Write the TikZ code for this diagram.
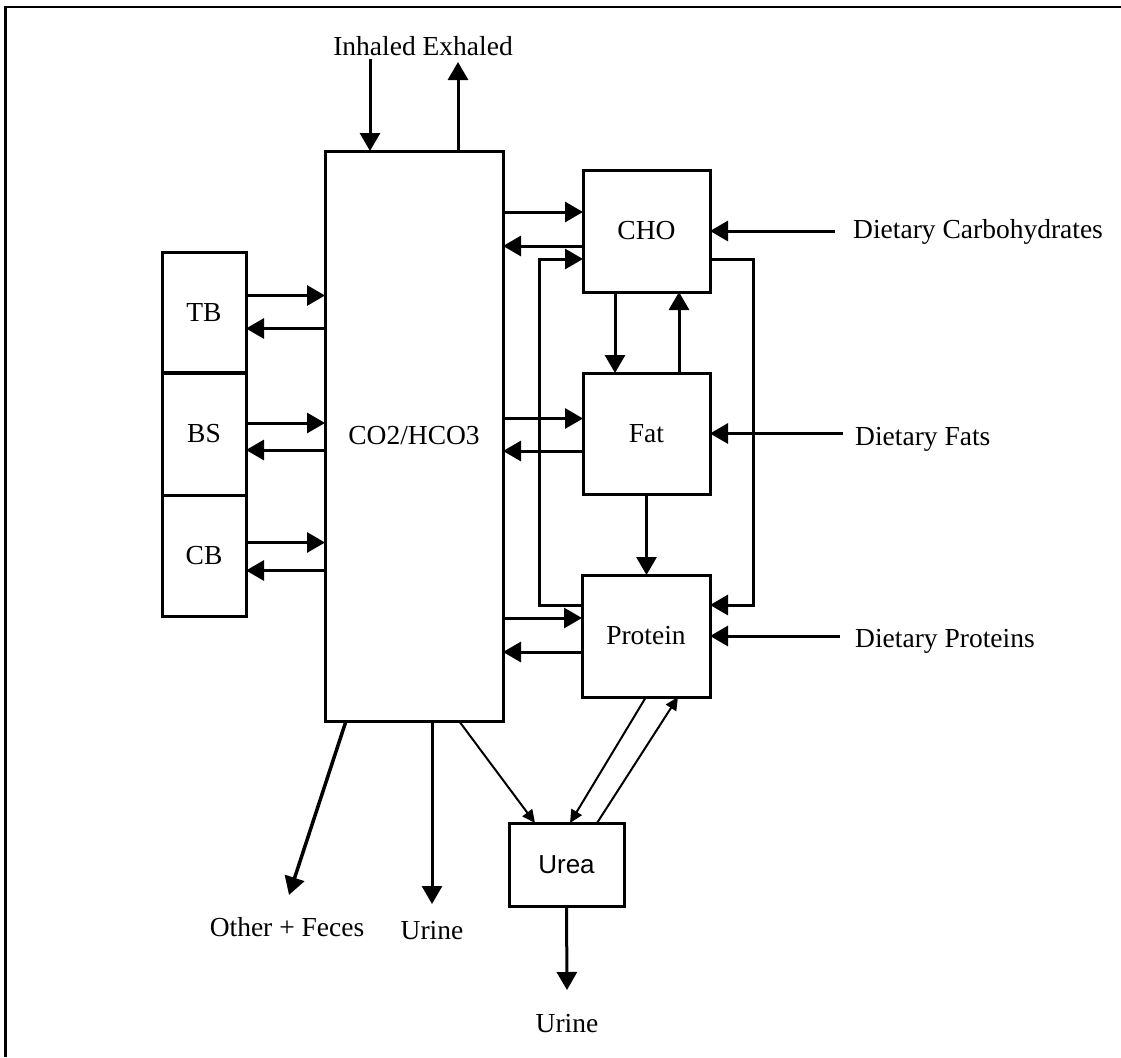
\documentclass[tikz,border=0pt]{standalone}
\usepackage{fontspec}
\setmainfont{Liberation Serif}
\newfontfamily\ureafont{Liberation Sans}
\usetikzlibrary{arrows.meta}

\tikzset{
  box/.style={draw,line width=3pt,inner sep=0pt,outer sep=0pt,font=\fontsize{27.5}{32}\selectfont},
  lbl/.style={inner sep=0pt,font=\fontsize{27.5}{32}\selectfont},
  arr/.style={line width=3pt,-{Triangle[length=18pt,width=20pt]}},
  thinarr/.style={line width=2pt,-{Triangle[length=13pt,width=12pt]}}
}

\begin{document}
\begin{tikzpicture}[x=1pt,y=-1pt]
            \useasboundingbox (0,0) rectangle (1121,1057);
            \draw[line width=2.5pt] (5.5,1057) -- (5.5,7) -- (1121,7);

            % pools
            \node (co2) at (414,436) [box,minimum width=178pt,minimum height=570pt] {CO2/HCO3};
            \node (tb) at (204,312.5) [box,minimum width=84pt,minimum height=120pt] {TB};
            \node (bs) at (204,434) [box,minimum width=84pt,minimum height=122pt] {BS};
            \node (cb) at (204,555.5) [box,minimum width=84pt,minimum height=121pt] {CB};
            \node (cho) at (646.5,231) [box,minimum width=127pt,minimum height=122pt] {CHO};
            \node (fat) at (646.5,433.5) [box,minimum width=127pt,minimum height=121pt] {Fat};
            \node (prot) at (646,636) [box,minimum width=128pt,minimum height=122pt] {Protein};
            \node (urea) at (566.5,864.5) [box,minimum width=115pt,minimum height=83pt,font=\ureafont\fontsize{26}{31}\selectfont] {Urea};

            % labels
            \node (air) at (423,56) [lbl,anchor=base] {Inhaled Exhaled};
            \node (dcho) at (853,238) [lbl,anchor=base west] {Dietary Carbohydrates};
            \node (dfat) at (855,445) [lbl,anchor=base west] {Dietary Fats};
            \node (dprot) at (855,647) [lbl,anchor=base west] {Dietary Proteins};
            \node (feces) at (287,927) [lbl] {Other + Feces};
            \node (urine1) at (432,931) [lbl] {Urine};
            \node (urine2) at (567,1024) [lbl] {Urine};

            \coordinate (outf) at (289,895);
            \coordinate (outu) at (432,904);
            \coordinate (outr) at (567,990);

            % breath
            \draw[arr] ([xshift=-53pt,yshift=-3pt]air.base) -- ([xshift=-53pt]air.base |- co2.north);
            \draw[arr] ([xshift=35pt]air.base |- co2.north) -- ([xshift=35pt,yshift=-6pt]air.base);

            % bone pools
            \foreach \b/\u/\d in {tb/17/-16,bs/11/-16,cb/13/-15} {
                \draw[arr] ([yshift=\u pt]\b.east) -- ([yshift=\u pt]\b.east -| co2.west);
                \draw[arr] ([yshift=\d pt]\b.east -| co2.west) -- ([yshift=\d pt]\b.east);
            }

            % substrates
            \foreach \s/\u/\d in {cho/19/-15,fat/15/-17.5,prot/18/-16} {
                \draw[arr] ([yshift=\u pt]\s.west -| co2.east) -- ([yshift=\u pt]\s.west);
                \draw[arr] ([yshift=\d pt]\s.west) -- ([yshift=\d pt]\s.west -| co2.east);
            }
            \draw[arr] ([xshift=-31.5pt]cho.south) -- ([xshift=-31.5pt]cho.south |- fat.north);
            \draw[arr] ([xshift=32.5pt]fat.north) -- ([xshift=32.5pt]fat.north |- cho.south);
            \draw[arr] (fat.south) -- (fat.south |- prot.north);
            \draw[arr] ([yshift=31pt]prot.west) -- ++(-43,0) |- ([yshift=-28pt]cho.west);
            \draw[arr] ([yshift=-28pt]cho.east) -- ++(43,0) |- ([yshift=31pt]prot.east);

            % diet
            \draw[arr] ([xshift=-18pt]dcho.west |- cho.east) -- (cho.east);
            \draw[arr] ([xshift=-12pt]dfat.west |- fat.east) -- (fat.east);
            \draw[arr] ([xshift=-15pt]dprot.west |- prot.east) -- (prot.east);

            % losses
            \draw[arr,line width=3.5pt] ([xshift=-68pt]co2.south) -- (outf);
            \draw[arr] (co2.south -| outu) -- (outu);
            \draw[arr] (urea.south) -- (outr);
            \draw[thinarr] ([xshift=45pt]co2.south) -- ([xshift=-31.5pt]urea.north);
            \draw[thinarr] (prot.south) -- ([xshift=3.5pt]urea.north);
            \draw[thinarr] ([xshift=30.5pt]urea.north) -- ([xshift=32pt]prot.south);
        \end{tikzpicture}
\end{document}
